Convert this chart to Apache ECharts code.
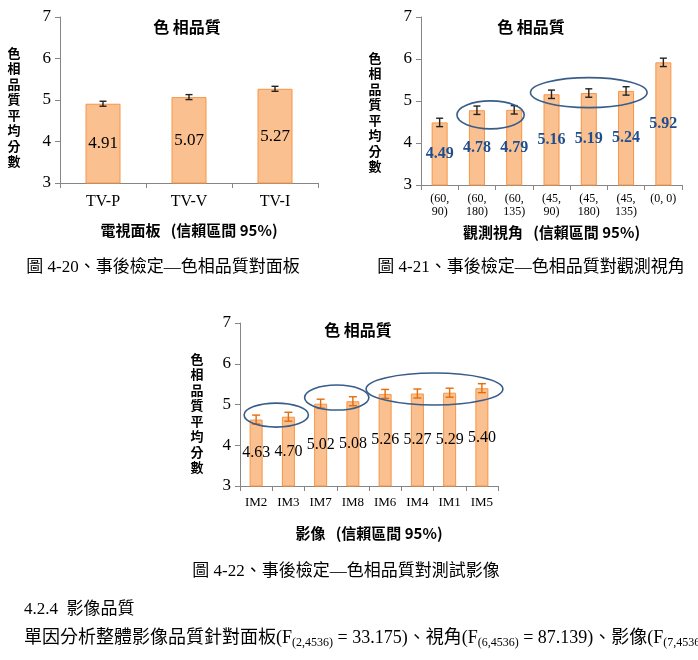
<!DOCTYPE html>
<html>
<head>
<meta charset="utf-8">
<title>色相品質 事後檢定</title>
<script src="https://cdn.jsdelivr.net/npm/echarts@6/dist/echarts.min.js"></script>
<style>body{margin:0;background:#fff;}</style>
</head>
<body>
<div id="main" style="width:698px;height:660px;"></div>
<script type="text/javascript">
// 圖 4-20 面板
var panelCats = ['TV-P', 'TV-V', 'TV-I'];
var panelMeans = [4.91, 5.07, 5.27];
var panelErr = [0.06, 0.06, 0.06];

// 圖 4-21 觀測視角
var angleCats = ['(60,\n90)', '(60,\n180)', '(60,\n135)', '(45,\n90)', '(45,\n180)', '(45,\n135)', '(0, 0)'];
var angleMeans = [4.49, 4.78, 4.79, 5.16, 5.19, 5.24, 5.92];
var angleErr = [0.1, 0.1, 0.1, 0.1, 0.1, 0.1, 0.1];

// 圖 4-22 測試影像
var imageCats = ['IM2', 'IM3', 'IM7', 'IM8', 'IM6', 'IM4', 'IM1', 'IM5'];
var imageMeans = [4.63, 4.70, 5.02, 5.08, 5.26, 5.27, 5.29, 5.40];
var imageErr = [0.11, 0.11, 0.11, 0.11, 0.11, 0.11, 0.11, 0.11];

var yMin = 3, yMax = 7, yStep = 1;

var SERIF = "'Liberation Serif', 'Noto Sans CJK TC', serif";
var CJK = "'Noto Sans CJK TC', 'Liberation Serif', sans-serif";
var AXIS_GRAY = '#868686';
var BAR_FILL = '#FAC090';
var BAR_EDGE = '#F79646';
var RING = '#385D8A';

var myChart = echarts.init(document.getElementById('main'));

function xAxisOf(gridIndex, cats, fontSize, margin, name) {
    return {
        type: 'category', gridIndex: gridIndex, data: cats,
        axisLine: {lineStyle: {color: AXIS_GRAY, width: 1}},
        axisTick: {show: true, length: 5, lineStyle: {color: AXIS_GRAY}},
        axisLabel: {color: '#000', fontFamily: SERIF, fontSize: fontSize, margin: margin, lineHeight: fontSize + 1},
        name: name, nameLocation: 'middle', nameGap: 40,
        nameTextStyle: {color: '#000', fontFamily: CJK, fontSize: 15, fontWeight: 'bold'}
    };
}
function yAxisOf(gridIndex) {
    return {
        type: 'value', gridIndex: gridIndex, min: yMin, max: yMax, interval: yStep,
        axisLine: {show: true, lineStyle: {color: AXIS_GRAY, width: 1}},
        axisTick: {show: true, length: 5, lineStyle: {color: AXIS_GRAY}},
        axisLabel: {color: '#000', fontFamily: SERIF, fontSize: 17, margin: 9},
        splitLine: {show: false}
    };
}
function barOf(idx, means, width, label) {
    return {
        type: 'bar', xAxisIndex: idx, yAxisIndex: idx, data: means, barWidth: width,
        itemStyle: {color: BAR_FILL, borderColor: BAR_EDGE, borderWidth: 1},
        label: Object.assign({show: true, position: 'inside', formatter: function (p) { return p.value.toFixed(2); }}, label),
        z: 2
    };
}
function errOf(idx, means, errs, color, cap) {
    return {
        type: 'custom', xAxisIndex: idx, yAxisIndex: idx, z: 5, silent: true,
        data: means.map(function (m, i) { return [i, m - errs[i], m + errs[i]]; }),
        renderItem: function (params, api) {
            var lo = api.coord([api.value(0), api.value(1)]);
            var hi = api.coord([api.value(0), api.value(2)]);
            var st = {stroke: color, lineWidth: 1.4};
            return {type: 'group', children: [
                {type: 'line', shape: {x1: lo[0], y1: lo[1], x2: hi[0], y2: hi[1]}, style: st},
                {type: 'line', shape: {x1: hi[0] - cap, y1: hi[1], x2: hi[0] + cap, y2: hi[1]}, style: st},
                {type: 'line', shape: {x1: lo[0] - cap, y1: lo[1], x2: lo[0] + cap, y2: lo[1]}, style: st}
            ]};
        }
    };
}

var option = {
    animation: false,
    backgroundColor: '#fff',
    grid: [
        {left: 60, top: 17, width: 258, height: 166},
        {left: 421, top: 17, width: 261, height: 168},
        {left: 240, top: 323, width: 258, height: 163}
    ],
    xAxis: [
        xAxisOf(0, panelCats, 16, 10, '電視面板   (信賴區間 95%)'),
        xAxisOf(1, angleCats, 12, 7, '觀測視角   (信賴區間 95%)'),
        xAxisOf(2, imageCats, 13, 10, '影像   (信賴區間 95%)')
    ],
    yAxis: [yAxisOf(0), yAxisOf(1), yAxisOf(2)],
    series: [
        barOf(0, panelMeans, 35, {color: '#000', fontFamily: SERIF, fontSize: 17}),
        errOf(0, panelMeans, panelErr, '#222', 3.5),
        barOf(1, angleMeans, 16, {color: '#1F4E8F', fontFamily: SERIF, fontSize: 16, fontWeight: 'bold'}),
        errOf(1, angleMeans, angleErr, '#222', 3.5),
        barOf(2, imageMeans, 13, {color: '#000', fontFamily: SERIF, fontSize: 16}),
        errOf(2, imageMeans, imageErr, '#E46C0A', 4)
    ]
};
myChart.setOption(option);

// 文字與圈選標示
function txt(x, y, text, size, opts) {
    return {
        type: 'text', x: x, y: y, silent: true,
        style: Object.assign({text: text, fill: '#000', fontFamily: CJK, fontSize: size,
            textAlign: 'center', textVerticalAlign: 'middle'}, opts || {})
    };
}
var yName = '色相品質平均分數'.split('').join('\n');
var graphics = [
    txt(187, 27, '色 相品質', 16, {fontWeight: 'bold'}),
    txt(531, 27, '色 相品質', 16, {fontWeight: 'bold'}),
    txt(358, 330, '色 相品質', 16, {fontWeight: 'bold'}),
    txt(14, 107, yName, 13, {lineHeight: 15.5, fontWeight: 'bold'}),
    txt(375, 112, yName, 13, {lineHeight: 15.5, fontWeight: 'bold'}),
    txt(197, 413, yName, 13, {lineHeight: 15.5, fontWeight: 'bold'}),
    txt(163, 268, '圖 4-20、事後檢定—色相品質對面板', 17, {fontFamily: SERIF}),
    txt(531, 268, '圖 4-21、事後檢定—色相品質對觀測視角', 17, {fontFamily: SERIF}),
    txt(346, 572, '圖 4-22、事後檢定—色相品質對測試影像', 17, {fontFamily: SERIF}),
    txt(24, 610, '4.2.4  影像品質', 17, {fontFamily: SERIF, textAlign: 'left'}),
    {
        type: 'text', x: 24, y: 638, silent: true,
        style: {
            text: '{t|單因分析整體影像品質針對面板(F}{s|(2,4536)}{t| = 33.175)、視角(F}{s|(6,4536)}{t| = 87.139)、影像(F}{s|(7,4536)}',
            textVerticalAlign: 'middle',
            rich: {
                t: {fontFamily: SERIF, fontSize: 18, fill: '#000', color: '#000', lineHeight: 22, verticalAlign: 'middle'},
                s: {fontFamily: SERIF, fontSize: 12, fill: '#000', color: '#000', lineHeight: 22, verticalAlign: 'bottom'}
            }
        }
    }
];

var rings = [
    {axis: 1, from: 1, to: 2, y: 4.67, padX: 15, dx: -5, ry: 14},
    {axis: 1, from: 3, to: 5, y: 5.2, padX: 21, dx: 0, ry: 15},
    {axis: 2, from: 0, to: 1, y: 4.74, padX: 16, dx: 4, ry: 12},
    {axis: 2, from: 2, to: 3, y: 5.17, padX: 16, dx: 0, ry: 12.5},
    {axis: 2, from: 4, to: 7, y: 5.38, padX: 20, dx: 1, ry: 16}
];
rings.forEach(function (r) {
    var x1 = myChart.convertToPixel({xAxisIndex: r.axis}, r.from);
    var x2 = myChart.convertToPixel({xAxisIndex: r.axis}, r.to);
    var cy = myChart.convertToPixel({yAxisIndex: r.axis}, r.y);
    graphics.push({
        type: 'ellipse', silent: true, z: 10,
        shape: {cx: (x1 + x2) / 2 + r.dx, cy: cy, rx: (x2 - x1) / 2 + r.padX, ry: r.ry},
        style: {fill: 'none', stroke: RING, lineWidth: 1.6}
    });
});
myChart.setOption({graphic: graphics});
</script>
</body>
</html>
